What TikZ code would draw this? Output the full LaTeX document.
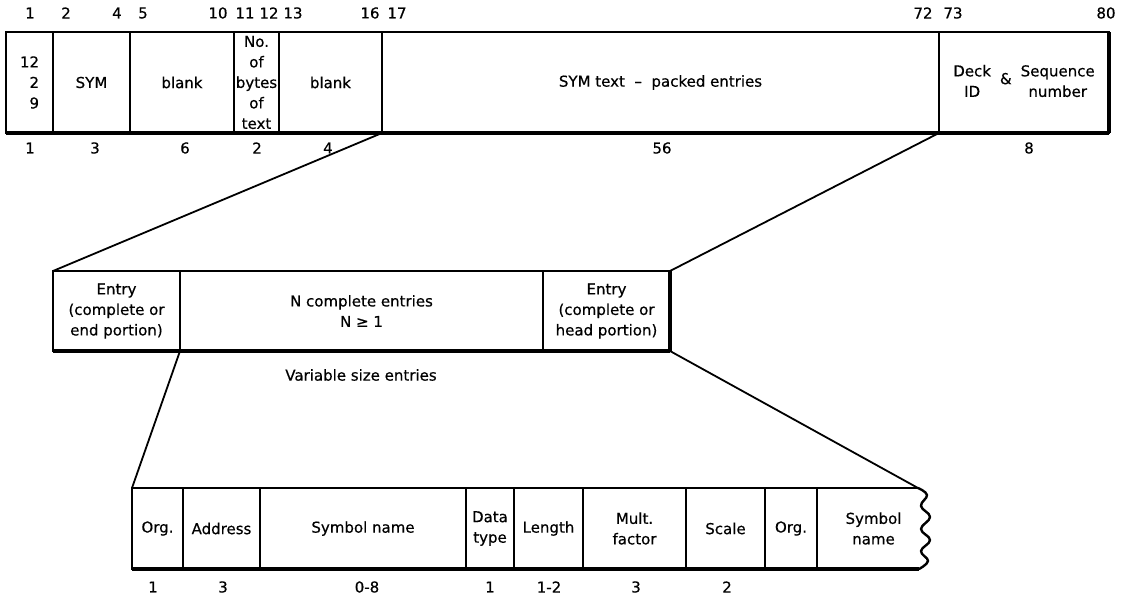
\documentclass[tikz,border=0pt]{standalone}
\usepackage{fontspec}
\setmainfont{DejaVu Sans}[FakeBold=0.5]
\newcommand\diagfont{\fontsize{15}{20.5}\selectfont}
\begin{document}
\begin{tikzpicture}[x=1pt,y=-1pt,
  cell/.style={draw, line width=1.8pt, anchor=north west, inner sep=0pt, outer sep=0pt, align=center, font=\diagfont},
  opencell/.style={anchor=north west, inner sep=0pt, outer sep=0pt, align=center, font=\diagfont},
  lab/.style={inner sep=0pt, font=\diagfont},
  conn/.style={line width=1.8pt},
  botedge/.style={line width=3.8pt},
  sideedge/.style={line width=3.2pt},
  waveline/.style={line width=2.4pt, line cap=round, line join=round}]
\useasboundingbox (0,0) rectangle (1123,597);

% ---- top row (card layout)
\node[cell, minimum width=47, minimum height=101, align=right] (t1) at (6,32) {12\\2\\9};
\node[cell, minimum width=77, minimum height=101] (t2) at (53,32) {SYM};
\node[cell, minimum width=104, minimum height=101] (t3) at (130,32) {blank};
\node[cell, minimum width=45, minimum height=101] (t4) at (234,32) {No.\\of\\bytes\\of\\text};
\node[cell, minimum width=103, minimum height=101] (t5) at (279,32) {blank};
\node[cell, minimum width=557, minimum height=101] (t6) at (382,32) {SYM text \ -- \ packed entries};
\node[cell, minimum width=170, minimum height=101] (t7) at (939,32)
  {\begin{tabular}{@{}c@{}}Deck\\ID\end{tabular}\hspace{9pt}\raisebox{2pt}{\&}\hspace{9pt}\begin{tabular}{@{}c@{}}Sequence\\number\end{tabular}};
\draw[botedge] (t1.south west) -- (t7.south east);
\draw[sideedge] (t7.north east) -- (t7.south east);

% column numbers above
\node[lab] (c1) at (30,13) {1};
\node[lab] (c2) at (66,13) {2};
\node[lab] (c4) at (117,13) {4};
\node[lab] (c5) at (143,13) {5};
\node[lab] (c10) at (218,13) {10};
\node[lab] (c11) at (245,13) {11};
\node[lab] (c12) at (269,13) {12};
\node[lab] (c13) at (293,13) {13};
\node[lab] (c16) at (370,13) {16};
\node[lab] (c17) at (397,13) {17};
\node[lab] (c72) at (923,13) {72};
\node[lab] (c73) at (953,13) {73};
\node[lab] (c80) at (1106,13) {80};
% field sizes below
\node[lab] (s1) at (30,148) {1};
\node[lab] (s2) at (95,148) {3};
\node[lab] (s3) at (185,148) {6};
\node[lab] (s4) at (257,148) {2};
\node[lab] (s5) at (328,148) {4};
\node[lab] (s6) at (662,148) {56};
\node[lab] (s7) at (1029,148) {8};

% ---- middle row (SYM text)
\node[cell, minimum width=127, minimum height=80] (m1) at (53,271) {Entry\\(complete or\\end portion)};
\node[cell, minimum width=363, minimum height=80] (m2) at (180,271) {N complete entries\\N ≥ 1};
\node[cell, minimum width=127, minimum height=80] (m3) at (543,271) {Entry\\(complete or\\head portion)};
\draw[botedge] (m1.south west) -- (m3.south east);
\draw[sideedge] (m3.north east) -- (m3.south east);
\node[lab] (var) at (361,375) {Variable size entries};

% ---- bottom row (entry layout)
\node[cell, minimum width=51, minimum height=81] (b1) at (132,488) {Org.};
\node[cell, minimum width=77, minimum height=81] (b2) at (183,488) {Address};
\node[cell, minimum width=206, minimum height=81] (b3) at (260,488) {Symbol name};
\node[cell, minimum width=48, minimum height=81] (b4) at (466,488) {Data\\type};
\node[cell, minimum width=69, minimum height=81] (b5) at (514,488) {Length};
\node[cell, minimum width=103, minimum height=81] (b6) at (583,488) {Mult.\\factor};
\node[cell, minimum width=79, minimum height=81] (b7) at (686,488) {Scale};
\node[cell, minimum width=52, minimum height=81] (b8) at (765,488) {Org.};
\node[opencell, minimum width=113, minimum height=81] (b9) at (817,488) {Symbol\\name};
\coordinate (wtop) at (918,488);
\coordinate (wbot) at (919,569);
\draw[line width=1.8pt] (b8.north east) -- (wtop);
\draw[botedge] (b1.south west) -- (wbot);
\draw[waveline] plot[smooth, tension=0.7] coordinates
  {(wtop) (927,495) (921,506) (930,517) (921,529) (930,540) (921,551) (928,561) (wbot)};
\node[lab] (e1) at (153,587) {1};
\node[lab] (e2) at (223,587) {3};
\node[lab] (e3) at (367,587) {0-8};
\node[lab] (e4) at (490,587) {1};
\node[lab] (e5) at (549,587) {1-2};
\node[lab] (e6) at (636,587) {3};
\node[lab] (e7) at (727,587) {2};

% ---- expansion connectors
\draw[conn] (t5.south east) -- (m1.north west);
\draw[conn] (t6.south east) -- (m3.north east);
\draw[conn] (m1.south east) -- (b1.north west);
\draw[conn] (m3.south east) -- (wtop);
\end{tikzpicture}
\end{document}
